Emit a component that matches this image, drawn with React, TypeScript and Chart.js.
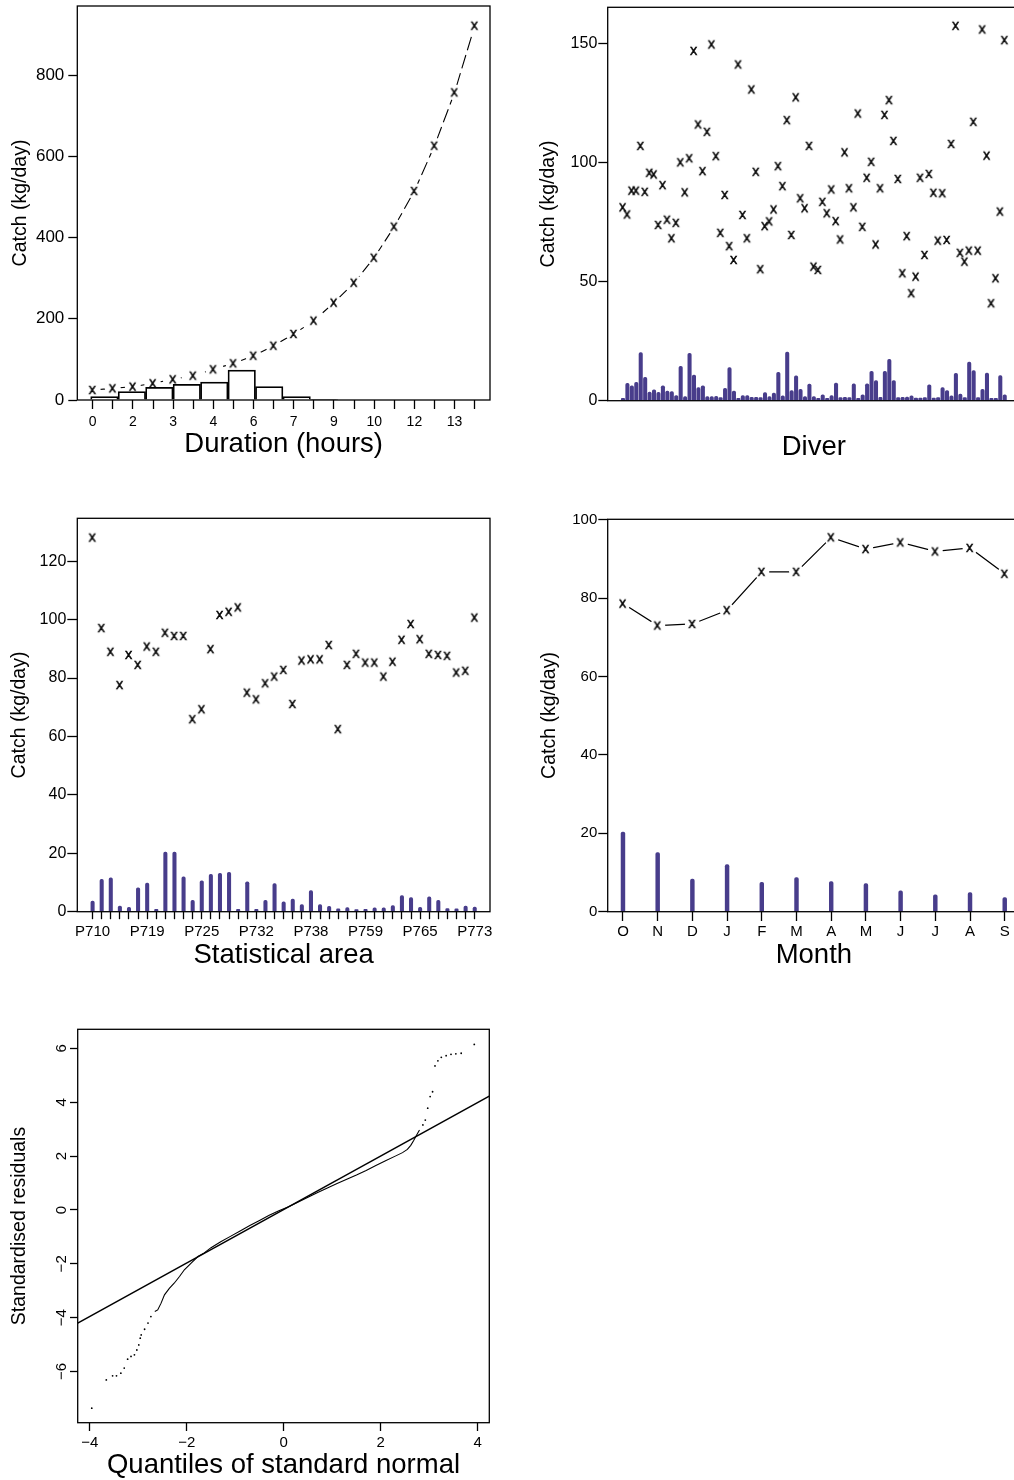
import React, { useEffect, useRef } from "react";
import { Chart, registerables } from "chart.js";

Chart.register(...registerables);

const FONT = "'Liberation Sans', Arial, Helvetica, sans-serif";
const INK = "#000000";
const BAR_COLOR = "#483D8B";

// ---------- Panel 1: duration ----------
const durationTickLabels = ["0", "", "2", "", "3", "", "4", "", "6", "", "7", "", "9", "", "10", "", "12", "", "13", ""];
const durationCatch = [24.6, 28.7, 32.8, 41, 50.9, 59.9, 75.5, 90.3, 109, 133.7, 162.5, 195.3, 239.6, 288.8, 350.3, 426.7, 514.5, 626, 757.3, 921.4];
const histCentres = [0.583, 1.949, 3.315, 4.681, 6.047, 7.413, 8.779, 10.145, 11.511];
const histHeights = [8.2, 20.5, 31.2, 38.6, 44.3, 73.8, 32.8, 8.2, 1.6];
const durationTicksY = [0, 200, 400, 600, 800];

// ---------- Panel 2: diver ----------
const diverCatch = [
  81.2, 78.2, 88.2, 88.2, 107.0, 87.7, 95.7, 95.0, 73.8, 90.5,
  76.0, 68.2, 74.7, 100.1, 87.5, 101.8, 146.9, 116.0, 96.4, 112.9,
  149.6, 102.7, 70.5, 86.4, 64.9, 59.1, 141.2, 78.0, 68.2, 130.7,
  96.1, 55.2, 73.3, 75.3, 80.3, 98.5, 90.1, 117.8, 69.6, 127.4,
  85.0, 80.8, 107.0, 56.3, 54.9, 83.5, 78.7, 88.7, 75.4, 67.7,
  104.3, 89.2, 81.2, 120.6, 73.0, 93.6, 100.3, 65.6, 89.2, 120.0,
  126.2, 109.1, 93.1, 53.5, 69.1, 45.1, 52.1, 93.6, 61.2, 95.2,
  87.3, 67.2, 87.1, 67.5, 107.8, 157.4, 62.1, 58.4, 63.0, 117.1,
  63.0, 155.9, 102.9, 40.9, 51.4, 79.4, 151.4,
];
const diverEffort = [
  1, 7.3, 6.2, 7.7, 20.2, 9.8, 3.6, 4.6, 3.5, 6.2,
  4, 3.8, 2.2, 14.4, 1.7, 19.9, 10.8, 5.5, 6.2, 1.7,
  1.7, 1.8, 1.3, 5.2, 13.9, 4, 1, 2.1, 2.1, 1.4,
  1.4, 1.3, 3.4, 1.7, 3.2, 11.9, 2, 20.4, 4.2, 10.4,
  4.8, 1.7, 7, 1.7, 1, 2.5, 1, 2.1, 7.4, 1.3,
  1.4, 1.3, 7.1, 1, 2.5, 7.1, 12.3, 8.4, 1.4, 12.3,
  17.4, 8.5, 1.3, 1.4, 1.5, 2, 1.1, 1.1, 1.3, 6.7,
  1.1, 1.3, 5.5, 4.3, 2, 11.5, 2.8, 1.3, 16.2, 12.6,
  1.3, 4.8, 11.6, 1, 1, 10.5, 2.5,
];
const diverTicksY = [0, 50, 100, 150];

// ---------- Panel 3: statistical area ----------
const areaNames = [
  "P710", "P711", "P712", "P713", "P715", "P717", "P719", "P720", "P721", "P722",
  "P723", "P724", "P725", "P726", "P727", "P728", "P729", "P730", "P732", "P733",
  "P734", "P735", "P736", "P737", "P738", "P739", "P740", "P742", "P744", "P750",
  "P759", "P760", "P761", "P762", "P763", "P764", "P765", "P766", "P767", "P768",
  "P770", "P772", "P773",
];
const areaCatch = [
  128.1, 97.1, 89.0, 77.6, 87.9, 84.5, 90.8, 89.0, 95.5, 94.4,
  94.4, 65.9, 69.3, 89.9, 101.6, 102.7, 104.2, 75.0, 72.7, 78.2,
  80.5, 82.8, 71.1, 86.0, 86.4, 86.4, 91.3, 62.5, 84.5, 88.3,
  85.3, 85.3, 80.5, 85.6, 93.1, 98.5, 93.3, 88.3, 87.9, 87.6,
  81.9, 82.5, 100.7,
];
const areaEffort = [
  3.65, 11.1, 11.6, 1.9, 1.5, 8.2, 9.8, 0.8, 20.4, 20.4,
  11.9, 3.9, 10.6, 12.8, 13.1, 13.5, 0.8, 10.2, 0.8, 3.9,
  9.6, 3.4, 4.3, 2.4, 7.2, 2.4, 1.8, 1.0, 1.4, 0.7,
  0.8, 1.3, 1.3, 2.1, 5.5, 4.8, 1.5, 5.1, 3.9, 1.1,
  1.0, 1.9, 1.6,
];
const areaTicksY = [0, 20, 40, 60, 80, 100, 120];

// ---------- Panel 4: month ----------
const monthLabels = ["O", "N", "D", "J", "F", "M", "A", "M", "J", "J", "A", "S"];
const monthCatch = [78.6, 73.0, 73.4, 76.9, 86.7, 86.7, 95.5, 92.5, 94.2, 91.9, 92.8, 86.2];
const monthEffort = [20.3, 15.1, 8.3, 12.0, 7.5, 8.7, 7.7, 7.2, 5.3, 4.3, 4.9, 3.6];
const monthTicksY = [0, 20, 40, 60, 80, 100];

// ---------- Panel 5: normal QQ ----------
const qqCurveX = [-2.66, -2.6, -2.53, -2.46, -2.36, -2.26, -2.15, -2.05, -1.91, -1.77, -1.66, -1.5, -1.3, -1.1, -0.9, -0.7, -0.5, -0.3, -0.1, 0.1, 0.3, 0.5, 0.7, 0.9, 1.1, 1.3, 1.5, 1.7, 1.9, 2.1, 2.3, 2.45, 2.55, 2.62, 2.68, 2.73, 2.8];
const qqCurveY = [-3.77, -3.71, -3.46, -3.15, -2.91, -2.72, -2.47, -2.22, -1.97, -1.73, -1.62, -1.4, -1.18, -0.98, -0.78, -0.58, -0.39, -0.2, -0.03, 0.12, 0.3, 0.47, 0.65, 0.82, 0.98, 1.14, 1.3, 1.47, 1.65, 1.83, 2.0, 2.13, 2.25, 2.4, 2.58, 2.75, 2.97];
const qqTailX = [-3.96, -3.66, -3.53, -3.45, -3.36, -3.29, -3.22, -3.15, -3.08, -3.03, -2.99, -2.96, -2.94, -2.87, -2.8, -2.74, 2.87, 2.92, 2.97, 3.02, 3.07, 3.12, 3.18, 3.25, 3.35, 3.45, 3.55, 3.66, 3.93];
const qqTailY = [-7.36, -6.31, -6.16, -6.16, -6.06, -5.87, -5.54, -5.44, -5.38, -5.2, -5.01, -4.76, -4.64, -4.43, -4.2, -3.96, 3.16, 3.34, 3.78, 4.21, 4.39, 5.35, 5.54, 5.67, 5.73, 5.78, 5.8, 5.82, 6.15];
const qqLineX = [-4.25, 4.24];
const qqLineY = [-4.2, 4.23];
const qqTicksX = [-4, -2, 0, 2, 4];
const qqTicksY = [-6, -4, -2, 0, 2, 4, 6];

// ---------- helpers ----------
const indexes = (n: number) => Array.from({ length: n }, (_, i) => i);
const minusLabel = (v: number) => (v < 0 ? "\u2212" + Math.abs(v) : String(v));

function xGlyph(px: number): HTMLCanvasElement {
  const c = document.createElement("canvas");
  const s = 18;
  c.width = s;
  c.height = s;
  const g = c.getContext("2d")!;
  g.font = `${px}px ${FONT}`;
  g.fillStyle = INK;
  g.strokeStyle = INK;
  g.lineWidth = 0.45;
  g.textBaseline = "alphabetic";
  g.textAlign = "left";
  const m = g.measureText("x");
  const w = m.actualBoundingBoxLeft + m.actualBoundingBoxRight;
  const h = m.actualBoundingBoxAscent + m.actualBoundingBoxDescent;
  const tx = s / 2 - w / 2 + m.actualBoundingBoxLeft;
  const ty = s / 2 + h / 2 - m.actualBoundingBoxDescent;
  g.fillText("x", tx, ty);
  g.strokeText("x", tx, ty);
  return c;
}

const boxPlugin = {
  id: "rbox",
  afterDraw(chart: any) {
    const { ctx, chartArea: a } = chart;
    ctx.save();
    ctx.strokeStyle = INK;
    ctx.lineWidth = 1.3;
    ctx.strokeRect(a.left, a.top, a.right - a.left, a.bottom - a.top);
    ctx.restore();
  },
};

function makeAxis(o: any) {
  const show = o.showTicks !== false;
  return {
    type: "linear",
    position: o.position,
    min: o.min,
    max: o.max,
    offset: false,
    bounds: "data",
    afterBuildTicks: (s: any) => {
      s.ticks = (o.ticks || []).map((v: number) => ({ value: v }));
    },
    afterFit: (s: any) => {
      if (s.isHorizontal()) s.height = o.size;
      else s.width = o.size;
      s.paddingTop = 0;
      s.paddingBottom = 0;
      s.paddingLeft = 0;
      s.paddingRight = 0;
    },
    border: { display: false },
    grid: {
      display: show,
      drawOnChartArea: false,
      drawTicks: true,
      tickLength: o.tickLen || 0,
      tickWidth: 1.3,
      tickColor: INK,
      offset: false,
    },
    ticks: {
      display: show,
      autoSkip: false,
      maxRotation: o.rotate || 0,
      minRotation: o.rotate || 0,
      padding: o.pad || 0,
      crossAlign: o.crossAlign || "near",
      color: INK,
      font: { family: FONT, size: o.font || 15, lineHeight: 1 },
      callback: o.labels || ((v: number) => String(v)),
    },
    title: o.title
      ? {
          display: true,
          text: o.title,
          color: INK,
          font: { family: FONT, size: o.titleSize, lineHeight: 1 },
          padding: { top: (o.titlePad && o.titlePad.top) || 0, bottom: (o.titlePad && o.titlePad.bottom) || 0 },
        }
      : { display: false },
  };
}

function hiddenAxis(min: number, max: number) {
  return {
    type: "linear",
    display: false,
    min,
    max,
    offset: false,
    afterBuildTicks: (s: any) => {
      s.ticks = [];
    },
  };
}

function baseOptions(padding: any, scales: any) {
  return {
    responsive: false,
    maintainAspectRatio: false,
    animation: false,
    devicePixelRatio: 1,
    events: [],
    layout: { padding, autoPadding: false },
    plugins: { legend: { display: false }, tooltip: { enabled: false } },
    scales,
  };
}

function thinBars(xs: number[], ys: number[], thickness: number) {
  return {
    type: "bar",
    data: xs.map((x, i) => ({ x, y: ys[i] })),
    backgroundColor: BAR_COLOR,
    borderWidth: 0,
    barThickness: thickness,
    grouped: false,
    borderRadius: { topLeft: 1.8, topRight: 1.8, bottomLeft: 0, bottomRight: 0 },
    borderSkipped: "start",
    order: 1,
  };
}

function markerSet(pts: any[], glyph: HTMLCanvasElement) {
  return { type: "scatter", data: pts, pointStyle: glyph, pointRadius: 4, showLine: false, order: 0 };
}

// ---------- chart configs ----------
function durationConfig(): any {
  const pts = durationCatch.map((y, i) => ({ x: i, y }));
  return {
    type: "scatter",
    data: {
      datasets: [
        markerSet(pts, xGlyph(14.5)),
        {
          type: "bar",
          xAxisID: "xh",
          data: histCentres.map((x, i) => ({ x, y: histHeights[i] })),
          backgroundColor: "rgba(0,0,0,0)",
          borderColor: INK,
          borderWidth: 1.1,
          borderSkipped: "start",
          barPercentage: 1,
          categoryPercentage: 1,
          grouped: false,
          order: 1,
        },
        { type: "scatter", data: pts, pointRadius: 8, pointBackgroundColor: "#fff", pointBorderWidth: 0, order: 2 },
        { type: "line", data: pts, borderColor: INK, borderWidth: 1.1, borderDash: [14, 5], pointRadius: 0, tension: 0, order: 3 },
      ],
    },
    options: baseOptions(
      { top: 6, right: 10, left: 0, bottom: 0 },
      {
        x: makeAxis({
          position: "bottom", min: -0.765, max: 19.76, ticks: indexes(20),
          labels: (v: number) => durationTickLabels[v] ?? "",
          tickLen: 9, pad: 6, font: 14, size: 58, title: "Duration (hours)", titleSize: 27.5,
        }),
        xh: hiddenAxis(-0.765, 19.76),
        y: makeAxis({
          position: "left", min: 0, max: 970, ticks: durationTicksY,
          tickLen: 9, pad: 4, font: 17, size: 77.3, title: "Catch (kg/day)", titleSize: 19.5, titlePad: { top: 11.25 },
        }),
      }
    ),
    plugins: [boxPlugin],
  };
}

function diverConfig(): any {
  const xs = indexes(diverCatch.length);
  return {
    type: "scatter",
    data: {
      datasets: [
        markerSet(xs.map((x) => ({ x, y: diverCatch[x] })), xGlyph(14.5)),
        thinBars(xs, diverEffort, 3.4),
      ],
    },
    options: baseOptions(
      { top: 7.3, right: 0, left: 0, bottom: 0 },
      {
        x: makeAxis({ position: "bottom", min: -3.44, max: 89.44, showTicks: false, size: 60.3, title: "Diver", titleSize: 27.5 }),
        y: makeAxis({
          position: "left", min: 0, max: 165.2, ticks: diverTicksY,
          tickLen: 9.4, pad: 1, font: 16, size: 77.7, title: "Catch (kg/day)", titleSize: 19.5, titlePad: { top: 9.25 },
        }),
      }
    ),
    plugins: [boxPlugin],
  };
}

function areaConfig(): any {
  const xs = indexes(areaNames.length);
  return {
    type: "scatter",
    data: {
      datasets: [
        markerSet(xs.map((x) => ({ x, y: areaCatch[x] })), xGlyph(14.5)),
        thinBars(xs, areaEffort, 3.4),
      ],
    },
    options: baseOptions(
      { top: 18.3, right: 10, left: 0, bottom: 0 },
      {
        x: makeAxis({
          position: "bottom", min: -1.68, max: 43.68, ticks: xs,
          labels: (v: number) => (v % 6 === 0 ? areaNames[v] : ""),
          tickLen: 7.5, pad: 5, font: 15, size: 57.3, title: "Statistical area", titleSize: 27.5,
        }),
        y: makeAxis({
          position: "left", min: 0, max: 134.7, ticks: areaTicksY,
          tickLen: 10, pad: 1, font: 16, size: 77.3, title: "Catch (kg/day)", titleSize: 19.5, titlePad: { top: 10.25 },
        }),
      }
    ),
    plugins: [boxPlugin],
  };
}

function monthConfig(): any {
  const xs = indexes(monthLabels.length);
  const pts = xs.map((x) => ({ x, y: monthCatch[x] }));
  return {
    type: "scatter",
    data: {
      datasets: [
        markerSet(pts, xGlyph(14.5)),
        thinBars(xs, monthEffort, 3.8),
        { type: "scatter", data: pts, pointRadius: 7.5, pointBackgroundColor: "#fff", pointBorderWidth: 0, order: 2 },
        { type: "line", data: pts, borderColor: INK, borderWidth: 1.2, pointRadius: 0, tension: 0, order: 3 },
      ],
    },
    options: baseOptions(
      { top: 19.3, right: 0, left: 0, bottom: 0 },
      {
        x: makeAxis({
          position: "bottom", min: -0.44, max: 11.44, ticks: xs,
          labels: (v: number) => monthLabels[v] ?? "",
          tickLen: 9.3, pad: 3.5, font: 15, size: 57.3, title: "Month", titleSize: 27.5,
        }),
        y: makeAxis({
          position: "left", min: 0, max: 100.1, ticks: monthTicksY,
          tickLen: 9.4, pad: 1, font: 15, size: 77.7, title: "Catch (kg/day)", titleSize: 19.5, titlePad: { top: 10.25 },
        }),
      }
    ),
    plugins: [boxPlugin],
  };
}

function qqConfig(): any {
  return {
    type: "scatter",
    data: {
      datasets: [
        {
          type: "scatter",
          data: qqTailX.map((x, i) => ({ x, y: qqTailY[i] })),
          pointRadius: 0.9,
          pointBackgroundColor: INK,
          pointBorderWidth: 0,
          order: 0,
        },
        {
          type: "line",
          data: qqCurveX.map((x, i) => ({ x, y: qqCurveY[i] })),
          borderColor: INK,
          borderWidth: 1.1,
          pointRadius: 0,
          tension: 0,
          order: 1,
        },
        {
          type: "line",
          data: qqLineX.map((x, i) => ({ x, y: qqLineY[i] })),
          borderColor: INK,
          borderWidth: 1.5,
          pointRadius: 0,
          order: 2,
        },
      ],
    },
    options: baseOptions(
      { top: 29.3, right: 10.7, left: 0, bottom: 0 },
      {
        x: makeAxis({
          position: "bottom", min: -4.25, max: 4.24, ticks: qqTicksX, labels: minusLabel,
          tickLen: 8.3, pad: 4.5, font: 15, size: 57.3, title: "Quantiles of standard normal", titleSize: 27.5,
          titlePad: { bottom: 1.25 },
        }),
        y: makeAxis({
          position: "left", min: -7.9, max: 6.71, ticks: qqTicksY, labels: minusLabel,
          tickLen: 7.7, pad: 0, font: 15, rotate: 90, crossAlign: "center",
          size: 77.7, title: "Standardised residuals", titleSize: 19.5, titlePad: { top: 10.25 },
        }),
      }
    ),
    plugins: [boxPlugin],
  };
}

function ChartPanel(props: { left: number; top: number; width: number; height: number; build: () => any }) {
  const ref = useRef<HTMLCanvasElement>(null);
  useEffect(() => {
    if (!ref.current) return;
    const chart = new Chart(ref.current, props.build());
    return () => chart.destroy();
  }, []);
  const { left, top, width, height } = props;
  return (
    <canvas
      ref={ref}
      width={width}
      height={height}
      style={{ position: "absolute", left, top, width, height, display: "block" }}
    />
  );
}

export default function App() {
  return (
    <div
      style={{
        position: "absolute",
        left: 0,
        top: 0,
        width: 1014,
        height: 1480,
        overflow: "hidden",
        background: "#ffffff",
      }}
    >
      <ChartPanel left={0} top={0} width={500} height={458} build={durationConfig} />
      <ChartPanel left={530} top={0} width={490} height={461} build={diverConfig} />
      <ChartPanel left={0} top={500} width={500} height={469} build={areaConfig} />
      <ChartPanel left={530} top={500} width={490} height={469} build={monthConfig} />
      <ChartPanel left={0} top={1000} width={500} height={480} build={qqConfig} />
    </div>
  );
}
